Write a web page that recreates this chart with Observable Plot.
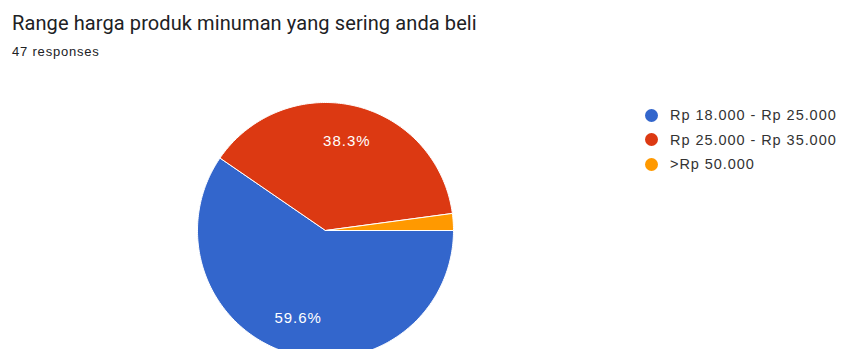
<!DOCTYPE html>
<html><head><meta charset="utf-8">
<script src="https://cdn.jsdelivr.net/npm/d3@7"></script>
<script src="https://cdn.jsdelivr.net/npm/@observablehq/plot@0.6"></script>
<style>
body{margin:0;background:#fff;font-family:Roboto,"Noto Sans",sans-serif;}
#wrap{position:relative;width:846px;height:349px;overflow:hidden;}
#title{position:absolute;left:12px;top:11px;font-size:20px;letter-spacing:0.1px;color:#202124;white-space:nowrap;}
#sub{position:absolute;left:12px;top:44px;font-family:"Liberation Sans",Arial,sans-serif;font-size:13px;letter-spacing:0.8px;color:#202124;white-space:nowrap;}
#chart{position:absolute;left:0;top:65px;}
#chart svg text{letter-spacing:1px;}
#legend{position:absolute;left:645px;top:103px;font-family:"Liberation Sans",Arial,sans-serif;font-size:14.5px;letter-spacing:0.95px;color:#333;}
.item{display:flex;align-items:center;height:24.5px;white-space:nowrap;}
.sw{width:13px;height:13px;border-radius:50%;margin-right:12px;}
</style></head><body>
<div id="wrap">
<div id="title">Range harga produk minuman yang sering anda beli</div>
<div id="sub">47 responses</div>
<div id="chart"></div>
<div id="legend"></div>
</div>
<script>
const categories = ["Rp 18.000 - Rp 25.000", "Rp 25.000 - Rp 35.000", ">Rp 50.000"];
const counts = [28, 18, 1];
const colors = ["#3366cc", "#dc3912", "#ff9900"];
const labels = ["59.6%", "38.3%", ""];

// start at 3 o'clock, clockwise
const pie = d3.pie().sort(null).startAngle(Math.PI/2).endAngle(Math.PI/2 + 2*Math.PI)(counts);
const pts = [];
const labelPts = [];
pie.forEach((p, i) => {
  pts.push({cat: categories[i], x: 0, y: 0});
  const n = Math.max(4, Math.ceil((p.endAngle - p.startAngle) * 60));
  for (let k = 0; k <= n; k++) {
    const a = p.startAngle + (p.endAngle - p.startAngle) * k / n;
    pts.push({cat: categories[i], x: Math.sin(a), y: Math.cos(a)});
  }
  pts.push({cat: categories[i], x: 0, y: 0});
  const m = (p.startAngle + p.endAngle) / 2;
  if (labels[i]) labelPts.push({cat: categories[i], label: labels[i], x: 0.72*Math.sin(m), y: 0.72*Math.cos(m)});
});

const cx = 325, cy = 165, r = 128;
const plot = Plot.plot({
  width: 846, height: 284,
  margin: 0,
  x: {domain: [-1, 1], range: [cx - r, cx + r], axis: null},
  y: {domain: [-1, 1], range: [cy + r, cy - r], axis: null},
  color: {domain: categories, range: colors},
  marks: [
    Plot.line(pts, {x: "x", y: "y", z: "cat", fill: "cat", stroke: "#fff", strokeWidth: 1, curve: "linear"}),
    Plot.text(labelPts, {x: "x", y: "y", text: "label", fill: "#fff", fontSize: 15, fontFamily: "Liberation Sans"})
  ]
});
document.getElementById("chart").appendChild(plot);

const lg = document.getElementById("legend");
categories.forEach((c, i) => {
  const it = document.createElement("div"); it.className = "item";
  const sw = document.createElement("div"); sw.className = "sw"; sw.style.background = colors[i];
  const t = document.createElement("span"); t.textContent = c;
  it.appendChild(sw); it.appendChild(t); lg.appendChild(it);
});
</script>
</body></html>
